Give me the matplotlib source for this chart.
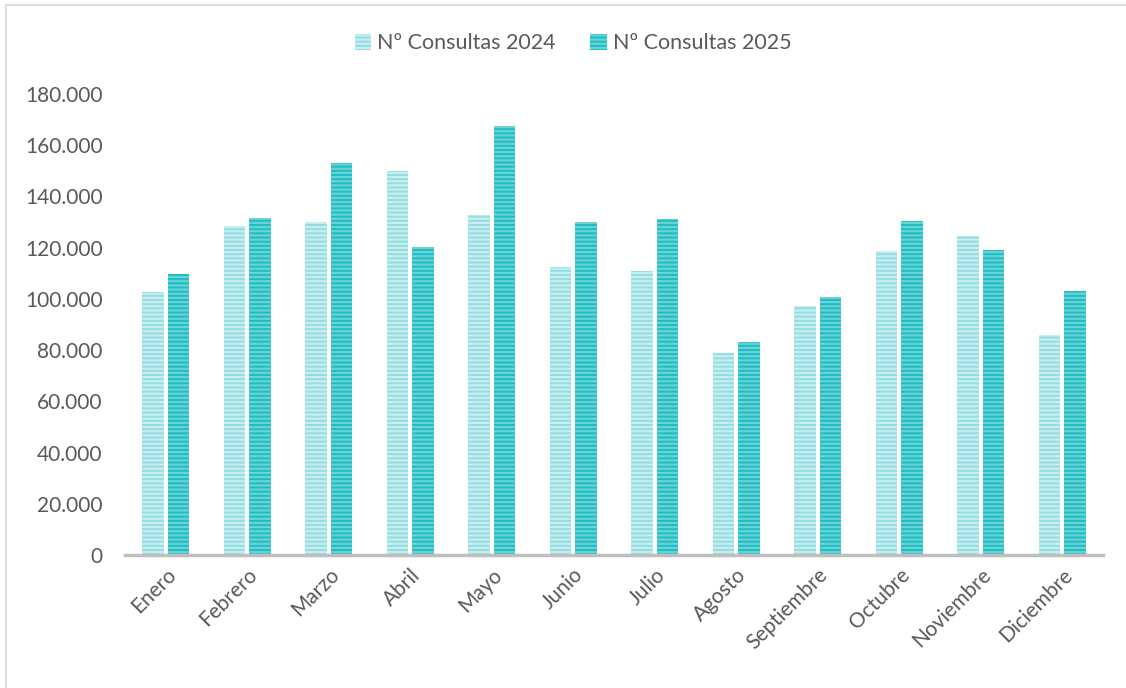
import matplotlib
matplotlib.use("Agg")
import matplotlib.pyplot as plt
import numpy as np
from matplotlib.ticker import FuncFormatter
from matplotlib.patches import Rectangle

months = ["Enero", "Febrero", "Marzo", "Abril", "Mayo", "Junio", "Julio",
          "Agosto", "Septiembre", "Octubre", "Noviembre", "Diciembre"]
consultas_2024 = [102500, 128500, 130000, 150000, 132800, 112500, 111000,
                  79000, 97200, 118800, 124600, 85800]
consultas_2025 = [109700, 131700, 153000, 120300, 167500, 130200, 131000,
                  83300, 100800, 130400, 119200, 103200]
series_labels = ["Nº Consultas 2024", "Nº Consultas 2025"]

plt.rcParams['font.family'] = ['Lato', 'DejaVu Sans']
plt.rcParams['hatch.linewidth'] = 1.6

fig = plt.figure(figsize=(11.26, 6.88), dpi=100)
ax = fig.add_axes([0.111, 0.1933, 0.8686, 0.6701])

x = np.arange(len(months))
w = 0.26
off = 0.157
ax.bar(x - off, consultas_2024, width=w, color="#94DDE1", edgecolor="#C6EEF0",
       hatch="----", linewidth=0, label=series_labels[0])
ax.bar(x + off, consultas_2025, width=w, color="#1CBEC3", edgecolor="#6AD2D5",
       hatch="----", linewidth=0, label=series_labels[1])

ax.set_xlim(-0.5, len(months) - 0.5)
ax.set_ylim(0, 180000)
ax.set_yticks(np.arange(0, 180001, 20000))
ax.yaxis.set_major_formatter(FuncFormatter(lambda v, p: f"{int(v):,}".replace(",", ".")))
ax.set_xticks(x)
ax.set_xticklabels(months, rotation=45, ha="right", rotation_mode="anchor")

for s in ["top", "right", "left"]:
    ax.spines[s].set_visible(False)
ax.spines["bottom"].set_color("#BFBFBF")
ax.spines["bottom"].set_linewidth(2.5)
ax.tick_params(axis="both", length=0, labelsize=15, colors="#595959")
ax.tick_params(axis="y", pad=16)
ax.tick_params(axis="x", pad=7)

leg = ax.legend(loc="center", bbox_to_anchor=(0.509, 0.937), bbox_transform=fig.transFigure,
                ncol=2, frameon=False, fontsize=15.5, handlelength=0.75, handleheight=0.75,
                handletextpad=0.3, columnspacing=1.6)
for t in leg.get_texts():
    t.set_color("#595959")

fig.patches.append(Rectangle((6 / 1126, -0.1), 1.2, 1 - 5 / 688 + 0.1, transform=fig.transFigure,
                             fill=False, edgecolor="#D9D9D9", linewidth=1.2))

fig.savefig("out.png", dpi=100)
